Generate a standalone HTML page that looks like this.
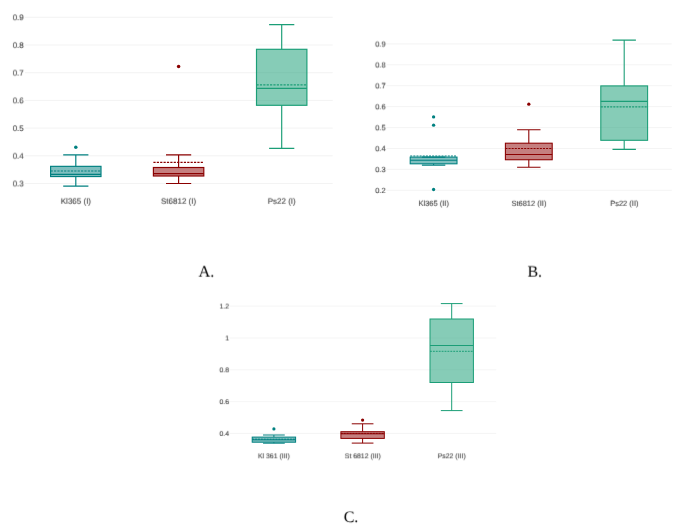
<!DOCTYPE html>
<html lang="en">
<head>
<meta charset="utf-8">
<title>Box plots A, B, C</title>
<style>
html,body{margin:0;padding:0;background:#fff;}
body{width:685px;height:532px;overflow:hidden;}
svg{display:block;will-change:transform;}
svg text{font-family:"Liberation Sans",Arial,Helvetica,sans-serif;fill:#444444;stroke:#444444;stroke-width:0.12px;text-rendering:geometricPrecision;}
svg text.cap{font-family:"Liberation Serif","Times New Roman",Times,serif;fill:#000;stroke:none;}
</style>
</head>
<body>
<svg width="685" height="532" viewBox="0 0 685 532">
<rect width="685" height="532" fill="#ffffff"/>
<defs>
<filter id="s1" x="-20%" y="-60%" width="140%" height="220%" color-interpolation-filters="sRGB"><feConvolveMatrix order="3 3" kernelMatrix="0.0274 0.3371 0.0274 0.0398 0.4885 0.0398 0.0017 0.0206 0.0017" divisor="1" targetX="1" targetY="1" edgeMode="none" preserveAlpha="false"/></filter>
<filter id="s2" x="-20%" y="-60%" width="140%" height="220%" color-interpolation-filters="sRGB"><feConvolveMatrix order="3 3" kernelMatrix="0.0213 0.2614 0.0213 0.0459 0.5642 0.0459 0.0020 0.0241 0.0020" divisor="1" targetX="1" targetY="1" edgeMode="none" preserveAlpha="false"/></filter>
<filter id="s3" x="-20%" y="-60%" width="140%" height="220%" color-interpolation-filters="sRGB"><feConvolveMatrix order="3 3" kernelMatrix="0.0151 0.1858 0.0151 0.0521 0.6398 0.0521 0.0022 0.0275 0.0022" divisor="1" targetX="1" targetY="1" edgeMode="none" preserveAlpha="false"/></filter>
<filter id="s4" x="-20%" y="-60%" width="140%" height="220%" color-interpolation-filters="sRGB"><feConvolveMatrix order="3 3" kernelMatrix="0.0090 0.1101 0.0090 0.0582 0.7155 0.0582 0.0025 0.0310 0.0025" divisor="1" targetX="1" targetY="1" edgeMode="none" preserveAlpha="false"/></filter>
<filter id="s5" x="-20%" y="-60%" width="140%" height="220%" color-interpolation-filters="sRGB"><feConvolveMatrix order="3 3" kernelMatrix="0.0028 0.0344 0.0028 0.0644 0.7912 0.0644 0.0028 0.0344 0.0028" divisor="1" targetX="1" targetY="1" edgeMode="none" preserveAlpha="false"/></filter>
<filter id="s6" x="-20%" y="-60%" width="140%" height="220%" color-interpolation-filters="sRGB"><feConvolveMatrix order="3 3" kernelMatrix="0.0025 0.0310 0.0025 0.0582 0.7155 0.0582 0.0090 0.1101 0.0090" divisor="1" targetX="1" targetY="1" edgeMode="none" preserveAlpha="false"/></filter>
<filter id="s7" x="-20%" y="-60%" width="140%" height="220%" color-interpolation-filters="sRGB"><feConvolveMatrix order="3 3" kernelMatrix="0.0022 0.0275 0.0022 0.0521 0.6398 0.0521 0.0151 0.1858 0.0151" divisor="1" targetX="1" targetY="1" edgeMode="none" preserveAlpha="false"/></filter>
<filter id="s8" x="-20%" y="-60%" width="140%" height="220%" color-interpolation-filters="sRGB"><feConvolveMatrix order="3 3" kernelMatrix="0.0020 0.0241 0.0020 0.0459 0.5642 0.0459 0.0213 0.2614 0.0213" divisor="1" targetX="1" targetY="1" edgeMode="none" preserveAlpha="false"/></filter>
<filter id="s9" x="-20%" y="-60%" width="140%" height="220%" color-interpolation-filters="sRGB"><feConvolveMatrix order="3 3" kernelMatrix="0.0017 0.0206 0.0017 0.0398 0.4885 0.0398 0.0274 0.3371 0.0274" divisor="1" targetX="1" targetY="1" edgeMode="none" preserveAlpha="false"/></filter>
<filter id="s10" x="-20%" y="-60%" width="140%" height="220%" color-interpolation-filters="sRGB"><feConvolveMatrix order="3 3" kernelMatrix="0.0014 0.0172 0.0014 0.0336 0.4128 0.0336 0.0336 0.4128 0.0336" divisor="1" targetX="1" targetY="1" edgeMode="none" preserveAlpha="false"/></filter>
</defs>
<line x1="25" x2="332.7" y1="17.3" y2="17.3" stroke="#eeeeee" stroke-width="0.7"/>
<line x1="25" x2="332.7" y1="45.0" y2="45.0" stroke="#eeeeee" stroke-width="0.7"/>
<line x1="25" x2="332.7" y1="72.7" y2="72.7" stroke="#eeeeee" stroke-width="0.7"/>
<line x1="25" x2="332.7" y1="100.4" y2="100.4" stroke="#eeeeee" stroke-width="0.7"/>
<line x1="25" x2="332.7" y1="128.1" y2="128.1" stroke="#eeeeee" stroke-width="0.7"/>
<line x1="25" x2="332.7" y1="155.8" y2="155.8" stroke="#eeeeee" stroke-width="0.7"/>
<line x1="25" x2="332.7" y1="183.5" y2="183.5" stroke="#eeeeee" stroke-width="0.7"/>
<text x="23.8" y="20" font-size="8" text-anchor="end" filter="url(#s7)">0.9</text>
<text x="23.8" y="48" font-size="8" text-anchor="end" filter="url(#s4)">0.8</text>
<text x="23.8" y="76" font-size="8" text-anchor="end" filter="url(#s1)">0.7</text>
<text x="23.8" y="103" font-size="8" text-anchor="end" filter="url(#s8)">0.6</text>
<text x="23.8" y="131" font-size="8" text-anchor="end" filter="url(#s5)">0.5</text>
<text x="23.8" y="159" font-size="8" text-anchor="end" filter="url(#s2)">0.4</text>
<text x="23.8" y="186" font-size="8" text-anchor="end" filter="url(#s9)">0.3</text>
<text x="75.9" y="204" font-size="8" text-anchor="middle" filter="url(#s3)">Kl365 (I)</text>
<text x="178.6" y="204" font-size="8" text-anchor="middle" filter="url(#s3)">St6812 (I)</text>
<text x="281.7" y="204" font-size="8" text-anchor="middle" filter="url(#s3)">Ps22 (I)</text>
<g stroke="#008080" stroke-width="1.17" fill="none">
<path d="M75.8,166.35V154.9M75.8,176.55V186.2M63.20,154.9H88.40M63.20,186.2H88.40"/>
<rect x="50.60" y="166.35" width="50.40" height="10.20" fill="#008080" fill-opacity="0.5"/>
<path d="M50.60,174.35H101.00"/>
<path d="M50.60,171.0H101.00" stroke-dasharray="2.2,1.18"/>
</g>
<circle cx="75.8" cy="147.2" r="1.75" fill="#008080"/>
<g stroke="#8b0000" stroke-width="1.17" fill="none">
<path d="M178.6,167.5V154.9M178.6,176.0V183.5M166.00,154.9H191.20M166.00,183.5H191.20"/>
<rect x="153.40" y="167.5" width="50.40" height="8.50" fill="#8b0000" fill-opacity="0.5"/>
<path d="M153.40,173.7H203.80"/>
<path d="M153.40,162.4H203.80" stroke-dasharray="2.2,1.18"/>
</g>
<circle cx="178.6" cy="66.5" r="1.75" fill="#8b0000"/>
<g stroke="#1b9e77" stroke-width="1.17" fill="none">
<path d="M281.7,49.3V24.6M281.7,105.3V148.4M269.10,24.6H294.30M269.10,148.4H294.30"/>
<rect x="256.50" y="49.3" width="50.40" height="56.00" fill="#1b9e77" fill-opacity="0.53"/>
<path d="M256.50,88.3H306.90"/>
<path d="M256.50,84.8H306.90" stroke-dasharray="2.2,1.18"/>
</g>
<line x1="386.5" x2="671.8" y1="43.9" y2="43.9" stroke="#eeeeee" stroke-width="0.65"/>
<line x1="386.5" x2="671.8" y1="64.8" y2="64.8" stroke="#eeeeee" stroke-width="0.65"/>
<line x1="386.5" x2="671.8" y1="85.7" y2="85.7" stroke="#eeeeee" stroke-width="0.65"/>
<line x1="386.5" x2="671.8" y1="106.6" y2="106.6" stroke="#eeeeee" stroke-width="0.65"/>
<line x1="386.5" x2="671.8" y1="127.6" y2="127.6" stroke="#eeeeee" stroke-width="0.65"/>
<line x1="386.5" x2="671.8" y1="148.5" y2="148.5" stroke="#eeeeee" stroke-width="0.65"/>
<line x1="386.5" x2="671.8" y1="169.4" y2="169.4" stroke="#eeeeee" stroke-width="0.65"/>
<line x1="386.5" x2="671.8" y1="190.3" y2="190.3" stroke="#eeeeee" stroke-width="0.65"/>
<text x="385.6" y="47" font-size="7.5" text-anchor="end" filter="url(#s1)">0.9</text>
<text x="385.6" y="67" font-size="7.5" text-anchor="end" filter="url(#s10)">0.8</text>
<text x="385.6" y="88" font-size="7.5" text-anchor="end" filter="url(#s9)">0.7</text>
<text x="385.6" y="109" font-size="7.5" text-anchor="end" filter="url(#s8)">0.6</text>
<text x="385.6" y="130" font-size="7.5" text-anchor="end" filter="url(#s8)">0.5</text>
<text x="385.6" y="151" font-size="7.5" text-anchor="end" filter="url(#s7)">0.4</text>
<text x="385.6" y="172" font-size="7.5" text-anchor="end" filter="url(#s6)">0.3</text>
<text x="385.6" y="193" font-size="7.5" text-anchor="end" filter="url(#s5)">0.2</text>
<text x="433.7" y="206" font-size="7.5" text-anchor="middle" filter="url(#s4)">Kl365 (II)</text>
<text x="528.9" y="206" font-size="7.5" text-anchor="middle" filter="url(#s4)">St6812 (II)</text>
<text x="624.3" y="206" font-size="7.5" text-anchor="middle" filter="url(#s4)">Ps22 (II)</text>
<g stroke="#008080" stroke-width="1.08" fill="none">
<path d="M433.6,157.1V157.1M433.6,163.8V165.15M421.90,157.1H445.30M421.90,165.15H445.30"/>
<rect x="410.20" y="157.1" width="46.80" height="6.70" fill="#008080" fill-opacity="0.5"/>
<path d="M410.20,160.2H457.00"/>
<path d="M410.20,156.0H457.00" stroke-dasharray="2.03,1.1"/>
</g>
<circle cx="433.6" cy="116.9" r="1.65" fill="#008080"/>
<circle cx="433.6" cy="125.2" r="1.65" fill="#008080"/>
<circle cx="433.6" cy="189.5" r="1.65" fill="#008080"/>
<g stroke="#8b0000" stroke-width="1.08" fill="none">
<path d="M528.8,143.2V129.7M528.8,159.75V167.3M517.10,129.7H540.50M517.10,167.3H540.50"/>
<rect x="505.40" y="143.2" width="46.80" height="16.55" fill="#8b0000" fill-opacity="0.5"/>
<path d="M505.40,154.45H552.20"/>
<path d="M505.40,148.5H552.20" stroke-dasharray="2.03,1.1"/>
</g>
<circle cx="528.8" cy="104.2" r="1.65" fill="#8b0000"/>
<g stroke="#1b9e77" stroke-width="1.08" fill="none">
<path d="M624.2,85.9V40.1M624.2,140.3V149.4M612.50,40.1H635.90M612.50,149.4H635.90"/>
<rect x="600.80" y="85.9" width="46.80" height="54.40" fill="#1b9e77" fill-opacity="0.53"/>
<path d="M600.80,101.4H647.60"/>
<path d="M600.80,106.9H647.60" stroke-dasharray="2.03,1.1"/>
</g>
<line x1="229.6" x2="496.2" y1="306.1" y2="306.1" stroke="#eeeeee" stroke-width="0.6"/>
<line x1="229.6" x2="496.2" y1="338.0" y2="338.0" stroke="#eeeeee" stroke-width="0.6"/>
<line x1="229.6" x2="496.2" y1="369.8" y2="369.8" stroke="#eeeeee" stroke-width="0.6"/>
<line x1="229.6" x2="496.2" y1="401.65" y2="401.65" stroke="#eeeeee" stroke-width="0.6"/>
<line x1="229.6" x2="496.2" y1="433.45" y2="433.45" stroke="#eeeeee" stroke-width="0.6"/>
<text x="229.0" y="309" font-size="6.9" text-anchor="end" filter="url(#s1)">1.2</text>
<text x="229.0" y="340" font-size="6.9" text-anchor="end" filter="url(#s10)">1</text>
<text x="229.0" y="372" font-size="6.9" text-anchor="end" filter="url(#s8)">0.8</text>
<text x="229.0" y="404" font-size="6.9" text-anchor="end" filter="url(#s6)">0.6</text>
<text x="229.0" y="436" font-size="6.9" text-anchor="end" filter="url(#s4)">0.4</text>
<text x="273.9" y="458" font-size="6.9" text-anchor="middle" filter="url(#s8)">Kl 361 (III)</text>
<text x="362.8" y="458" font-size="6.9" text-anchor="middle" filter="url(#s8)">St 6812 (III)</text>
<text x="451.7" y="458" font-size="6.9" text-anchor="middle" filter="url(#s8)">Ps22 (III)</text>
<g stroke="#008080" stroke-width="1.0" fill="none">
<path d="M273.9,437.1V435.0M273.9,442.2V443.2M263.05,435.0H284.75M263.05,443.2H284.75"/>
<rect x="252.20" y="437.1" width="43.40" height="5.10" fill="#008080" fill-opacity="0.5"/>
<path d="M252.20,439.8H295.60"/>
<path d="M252.20,439.2H295.60" stroke-dasharray="1.88,1.03"/>
</g>
<circle cx="273.9" cy="428.9" r="1.6" fill="#008080"/>
<g stroke="#8b0000" stroke-width="1.0" fill="none">
<path d="M362.6,431.7V423.8M362.6,438.4V443.1M351.75,423.8H373.45M351.75,443.1H373.45"/>
<rect x="340.90" y="431.7" width="43.40" height="6.70" fill="#8b0000" fill-opacity="0.5"/>
<path d="M340.90,433.8H384.30"/>
<path d="M340.90,433.4H384.30" stroke-dasharray="1.88,1.03"/>
</g>
<circle cx="362.6" cy="420.1" r="1.6" fill="#8b0000"/>
<g stroke="#1b9e77" stroke-width="1.0" fill="none">
<path d="M451.7,319.0V303.6M451.7,382.5V410.6M440.85,303.6H462.55M440.85,410.6H462.55"/>
<rect x="430.00" y="319.0" width="43.40" height="63.50" fill="#1b9e77" fill-opacity="0.53"/>
<path d="M430.00,345.5H473.40"/>
<path d="M430.00,351.3H473.40" stroke-dasharray="1.88,1.03"/>
</g>
<text x="198.5" y="277" font-size="16.3" text-anchor="start" class="cap" filter="url(#s2)">A.</text>
<text x="527.4" y="277" font-size="16" text-anchor="start" class="cap" filter="url(#s2)">B.</text>
<text x="343.7" y="522" font-size="16" text-anchor="start" class="cap" filter="url(#s6)">C.</text>
</svg>
</body>
</html>
